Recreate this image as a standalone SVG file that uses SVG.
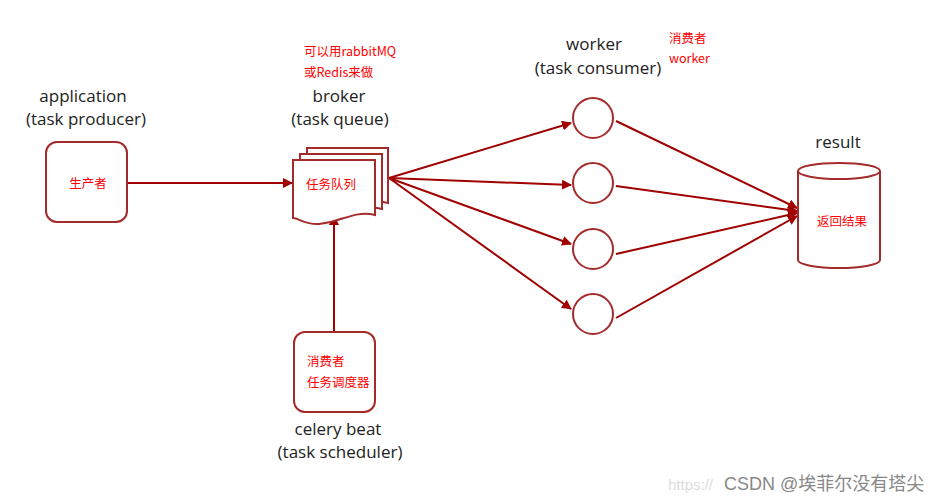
<svg xmlns="http://www.w3.org/2000/svg" width="951" height="502" viewBox="0 0 951 502">
<defs>
<style>
.lbl{font-family:"Open Sans","Liberation Sans",sans-serif;font-size:17px;fill:#222;text-anchor:middle}
.note{font-family:"Noto Sans CJK SC","Liberation Sans",sans-serif;font-size:12.5px;fill:#ff0000}
.shape{fill:#fff;stroke:#a52a2a;stroke-width:2}
.conn{stroke:#a00000;stroke-width:2;fill:none;marker-end:url(#ah)}
</style>
<marker id="ah" viewBox="0 0 10 10" refX="9" refY="5" markerWidth="5" markerHeight="5" orient="auto-start-reverse" markerUnits="strokeWidth">
<path d="M0,0 L10,5 L0,10 z" fill="#a00000"/>
</marker>
</defs>
<rect width="951" height="502" fill="#fff"/>

<g id="connectors">
<line class="conn" x1="127" y1="183" x2="292" y2="183"/>
<line class="conn" x1="334" y1="332" x2="334" y2="216"/>
<line class="conn" x1="389" y1="178" x2="571" y2="123"/>
<line class="conn" x1="389" y1="178" x2="571" y2="185"/>
<line class="conn" x1="389" y1="178" x2="571" y2="244"/>
<line class="conn" x1="389" y1="178" x2="571" y2="309"/>
<line class="conn" x1="616" y1="121" x2="797" y2="208"/>
<line class="conn" x1="616" y1="186" x2="797" y2="211"/>
<line class="conn" x1="616" y1="254" x2="797" y2="213"/>
<line class="conn" x1="616" y1="318" x2="797" y2="216"/>
</g>

<g id="producer">
<rect class="shape" x="46" y="142" width="81" height="80" rx="11"/>
<text class="note" x="88" y="188" text-anchor="middle">生产者</text>
<text class="lbl" x="83" y="102">application</text>
<text class="lbl" x="86" y="125">(task producer)</text>
</g>

<g id="broker">
<path class="shape" d="M307,148 H388 V203 C368,198 355,210 333,212 C320,213 312,206 307,206 Z"/>
<path class="shape" d="M300,154 H382 V209 C362,204 348,216 326,218 C313,219 305,212 300,212 Z"/>
<path class="shape" d="M293,160 H375 V215 C355,210 341,222 319,224 C306,225 298,218 293,218 Z"/>
<text class="note" x="306" y="189">任务队列</text>
<text class="lbl" x="339" y="102">broker</text>
<text class="lbl" x="340" y="125">(task queue)</text>
<text class="note" x="304" y="56">可以用rabbitMQ</text>
<text class="note" x="304" y="77">或Redis来做</text>
</g>

<g id="scheduler">
<rect class="shape" x="294" y="332" width="81" height="80" rx="11"/>
<text class="note" x="307" y="366">消费者</text>
<text class="note" x="307" y="387">任务调度器</text>
<text class="lbl" x="338" y="435">celery beat</text>
<text class="lbl" x="340" y="458">(task scheduler)</text>
</g>

<g id="worker1"><circle class="shape" cx="593" cy="118" r="20" stroke-width="1.5"/></g>
<g id="worker2"><circle class="shape" cx="593" cy="183" r="20" stroke-width="1.5"/></g>
<g id="worker3"><circle class="shape" cx="593" cy="249" r="20" stroke-width="1.5"/></g>
<g id="worker4"><circle class="shape" cx="593" cy="314" r="20" stroke-width="1.5"/></g>
<g id="worker-label">
<text class="lbl" x="594" y="50">worker</text>
<text class="lbl" x="598" y="74">(task consumer)</text>
<text class="note" x="669" y="43">消费者</text>
<text class="note" x="669" y="63">worker</text>
</g>

<g id="result">
<path class="shape" d="M798,171 V260 A41,8 0 0 0 880,260 V171"/>
<ellipse class="shape" cx="839" cy="171" rx="41" ry="8"/>
<text class="note" x="817" y="226">返回结果</text>
<text class="lbl" x="838" y="148">result</text>
</g>

<g id="watermark">
<text x="668" y="490" font-family="Liberation Sans,sans-serif" font-size="15" fill="#ddd">https://</text>
<text x="724" y="490" font-family="Liberation Sans,'Noto Sans CJK SC',sans-serif" font-size="18" fill="#888">CSDN @埃菲尔没有塔尖</text>
</g>
</svg>
